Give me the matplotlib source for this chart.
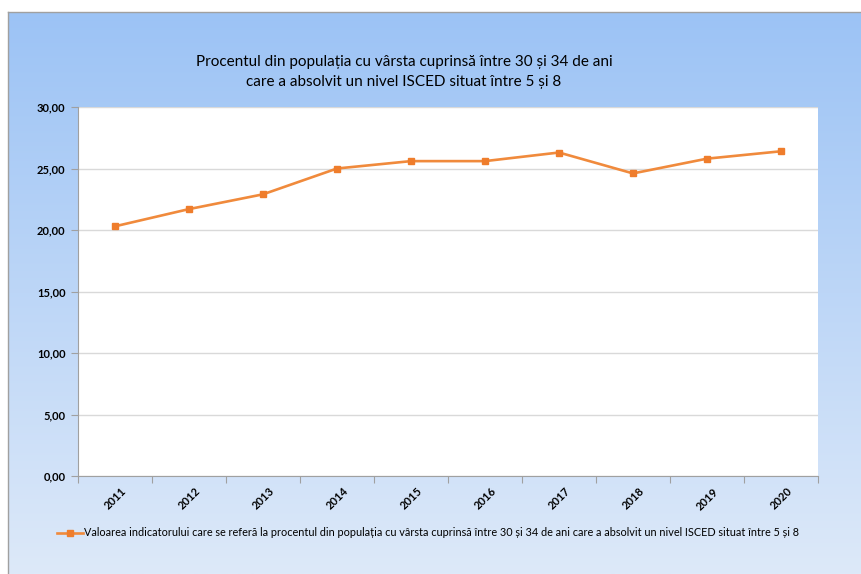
import numpy as np
import matplotlib
matplotlib.use("Agg")
import matplotlib.pyplot as plt
from matplotlib.colors import LinearSegmentedColormap
from matplotlib.ticker import FuncFormatter

years = ["2011", "2012", "2013", "2014", "2015", "2016", "2017", "2018", "2019", "2020"]
values = [20.3, 21.7, 22.9, 25.0, 25.6, 25.6, 26.3, 24.6, 25.8, 26.4]

title = ("Procentul din populația cu vârsta cuprinsă între 30 și 34 de ani\n"
         "care a absolvit un nivel ISCED situat între 5 și 8")
series_label = ("Valoarea indicatorului care se referă la procentul din populația cu vârsta "
                "cuprinsă între 30 și 34 de ani care a absolvit un nivel ISCED situat între 5 și 8")

W, H = 862, 574
plt.rcParams["font.family"] = ["Lato", "DejaVu Sans"]
fig = plt.figure(figsize=(W / 100, H / 100), dpi=100)
fig.patch.set_facecolor("white")

# gradient chart background, inset from top/left like the pasted Excel chart
bg = fig.add_axes([8 / W, 0, 1 - 8 / W, 1 - 12 / H], zorder=0)
cmap = LinearSegmentedColormap.from_list("bg", ["#9cc3f5", "#dde9f9"])
bg.imshow(np.linspace(0, 1, 256).reshape(-1, 1), aspect="auto", cmap=cmap,
          extent=[0, 1, 0, 1], origin="upper")
bg.set_xticks([]); bg.set_yticks([])
for side in ["bottom", "right"]:
    bg.spines[side].set_visible(False)
for side in ["top", "left"]:
    bg.spines[side].set_color("#a0a0a0")
    bg.spines[side].set_linewidth(1)

left, right, top, bottom = 78, 818, 107, 476
ax = fig.add_axes([left / W, 1 - bottom / H, (right - left) / W, (bottom - top) / H], zorder=1)
ax.set_facecolor("white")

x = np.arange(len(years))
ax.plot(x, values, color="#f08a3c", linewidth=1.9, marker="s", markersize=5,
        markerfacecolor="#ef7d2c", markeredgecolor="#ef7d2c", label=series_label, zorder=3)

ax.set_xlim(-0.5, len(years) - 0.5)
ax.set_ylim(0, 30)
ax.set_yticks(np.arange(0, 31, 5))
ax.yaxis.set_major_formatter(FuncFormatter(lambda v, p: f"{v:.2f}".replace(".", ",")))
ax.set_xticks(np.arange(-0.5, len(years), 1), minor=False)
ax.set_xticklabels([])
ax.set_xticks(x, minor=True)
ax.set_xticklabels(years, minor=True, rotation=45, ha="center", va="top",
                   fontsize=8, fontweight="bold")
ax.tick_params(axis="x", which="minor", length=0, pad=7)
ax.tick_params(axis="x", which="major", length=5, color="#a0a0a0")
ax.tick_params(axis="y", length=5, color="#a0a0a0", labelsize=8, pad=4)
for lab in ax.get_yticklabels():
    lab.set_fontweight("bold")

ax.grid(axis="y", color="#d9d9d9", linewidth=1)
ax.set_axisbelow(True)
for side in ["top", "right"]:
    ax.spines[side].set_visible(False)
for side in ["left", "bottom"]:
    ax.spines[side].set_color("#a0a0a0")

fig.text(404 / W, 1 - 72 / H, title, ha="center", va="center", fontsize=11,
         linespacing=1.5)

fig.legend(loc="center", bbox_to_anchor=(428 / W, 1 - 533 / H), frameon=False,
           fontsize=7.85, handlelength=2.4, handletextpad=0.15)

fig.savefig("out.png", dpi=100)
